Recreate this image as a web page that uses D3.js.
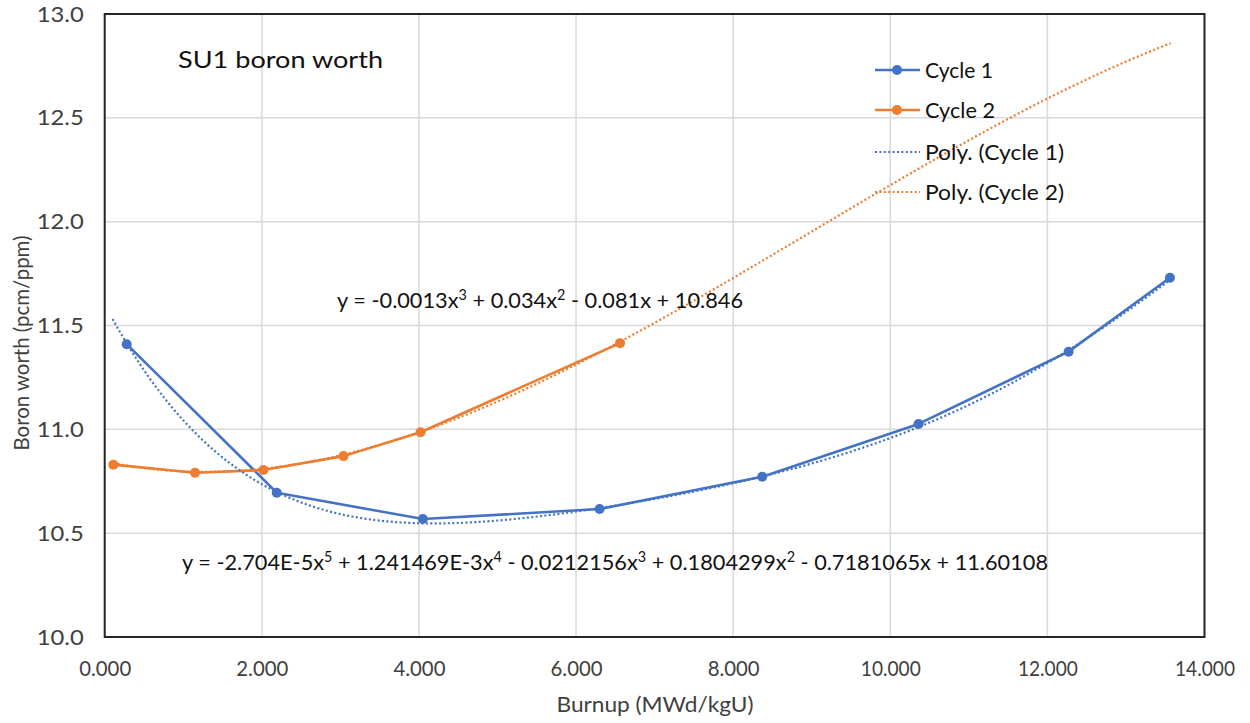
<!DOCTYPE html>
<html>
<head>
<meta charset="utf-8">
<script src="https://cdn.jsdelivr.net/npm/d3@7"></script>
<style>
  html, body { margin: 0; padding: 0; background: #ffffff; }
  svg { display: block; }
  text { font-family: Lato, "Open Sans", "Noto Sans", sans-serif; }
</style>
</head>
<body>
<svg id="chart" width="1250" height="723"></svg>
<script>
// Boron worth measurements per cycle (burnup in MWd/kgU, worth in pcm/ppm)
const cycle1Burnup = [0.28, 2.19, 4.05, 6.30, 8.37, 10.36, 12.27, 13.56];
const cycle1Worth  = [11.41, 10.695, 10.568, 10.616, 10.772, 11.026, 11.374, 11.73];
const cycle2Burnup = [0.11, 1.15, 2.02, 3.04, 4.02, 6.56];
const cycle2Worth  = [10.83, 10.791, 10.804, 10.871, 10.986, 11.415];

// Polynomial trendline coefficients, highest power first, and the span each covers
const poly1Coef  = [-2.704e-5, 1.241469e-3, -0.0212156, 0.1804299, -0.7181065, 11.60108];
const poly1Range = [0.10, 13.56];
const poly2Coef  = [-0.00126, 0.034, -0.081, 10.846];
const poly2Range = [0.11, 13.57];

// Axis ticks
const xTicks = [0, 2, 4, 6, 8, 10, 12, 14];
const yTicks = [10.0, 10.5, 11.0, 11.5, 12.0, 12.5, 13.0];

// Text
const titleText  = "SU1 boron worth";
const xTitle     = "Burnup (MWd/kgU)";
const yTitle     = "Boron worth (pcm/ppm)";
const legendLabels = ["Cycle 1", "Cycle 2", "Poly. (Cycle 1)", "Poly. (Cycle 2)"];
// equation pieces: [text, isSuperscript]
const eq2Parts = [["y = -0.0013x", false], ["3", true], [" + 0.034x", false], ["2", true], [" - 0.081x + 10.846", false]];
const eq1Parts = [["y = -2.704E-5x", false], ["5", true], [" + 1.241469E-3x", false], ["4", true],
                  [" - 0.0212156x", false], ["3", true], [" + 0.1804299x", false], ["2", true],
                  [" - 0.7181065x + 11.60108", false]];

const BLUE = "#4472C4", ORANGE = "#ED7D31", TEXT = "#111111", TICK = "#404040", GRID = "#d9d9d9";

const svg = d3.select("#chart");

const x = d3.scaleLinear().domain([0, 14]).range([104.7, 1204.5]);
const y = d3.scaleLinear().domain([10, 13]).range([637, 14]);

// gridlines
const grid = svg.append("g");
grid.selectAll("line.v").data(xTicks).join("line")
  .attr("x1", d => x(d)).attr("x2", d => x(d))
  .attr("y1", y(10)).attr("y2", y(13))
  .attr("stroke", GRID).attr("stroke-width", 1.5);
grid.selectAll("line.h").data(yTicks).join("line")
  .attr("x1", x(0)).attr("x2", x(14))
  .attr("y1", d => y(d)).attr("y2", d => y(d))
  .attr("stroke", GRID).attr("stroke-width", 1.5);

// plot area frame
svg.append("rect")
  .attr("x", x(0)).attr("y", y(13))
  .attr("width", x(14) - x(0)).attr("height", y(10) - y(13))
  .attr("fill", "none").attr("stroke", "#262626").attr("stroke-width", 2);

// stretch or squeeze a text element to a target width
function fitWidth(sel, w) {
  sel.attr("textLength", w).attr("lengthAdjust", "spacingAndGlyphs");
  return sel;
}

// axes
const xAxis = svg.append("g").attr("transform", `translate(0,${y(10)})`)
  .call(d3.axisBottom(x).tickValues(xTicks).tickFormat(d3.format(".3f")).tickSize(0));
xAxis.select(".domain").remove();
xAxis.selectAll("text").attr("fill", TICK).attr("font-size", 22)
  .style("font-family", "Lato, 'Open Sans', sans-serif")
  .attr("dy", "0.35em").attr("y", 31);
xAxis.selectAll("text").each(function (d) { fitWidth(d3.select(this), d >= 10 ? 60 : 52); });

const yAxis = svg.append("g").attr("transform", `translate(${x(0)},0)`)
  .call(d3.axisLeft(y).tickValues(yTicks).tickFormat(d3.format(".1f")).tickSize(0).tickPadding(21));
yAxis.select(".domain").remove();
yAxis.selectAll("text").attr("fill", TICK).attr("font-size", 22)
  .style("font-family", "Lato, 'Open Sans', sans-serif");
yAxis.selectAll("text").each(function () { fitWidth(d3.select(this), 47); });

// axis titles
svg.append("text").attr("x", 655).attr("y", 705).attr("dy", "0.35em")
  .attr("text-anchor", "middle").attr("font-size", 21).attr("fill", TICK)
  .text(xTitle).call(fitWidth, 197);
svg.append("text").attr("transform", "translate(22,343) rotate(-90)").attr("dy", "0.35em")
  .attr("text-anchor", "middle").attr("font-size", 21).attr("fill", TICK)
  .text(yTitle).call(fitWidth, 215);

// chart title
svg.append("text").attr("x", 178).attr("y", 60).attr("dy", "0.35em")
  .attr("font-size", 24).attr("fill", TEXT).text(titleText).call(fitWidth, 205);

// series data
const c1 = cycle1Burnup.map((b, i) => [b, cycle1Worth[i]]);
const c2 = cycle2Burnup.map((b, i) => [b, cycle2Worth[i]]);

const polyEval = (coef, t) => coef.reduce((acc, c) => acc * t + c, 0);
const trend = (coef, range) => d3.range(0, 201).map(i => {
  const t = range[0] + (range[1] - range[0]) * i / 200;
  return [t, polyEval(coef, t)];
});

const line = d3.line().x(d => x(d[0])).y(d => y(d[1]));

const plot = svg.append("g");
[[c1, BLUE], [c2, ORANGE]].forEach(([pts, col]) => {
  plot.append("path").datum(pts).attr("d", line)
    .attr("fill", "none").attr("stroke", col).attr("stroke-width", 2.6)
    .attr("stroke-linejoin", "round");
});
[[trend(poly1Coef, poly1Range), BLUE], [trend(poly2Coef, poly2Range), ORANGE]].forEach(([pts, col]) => {
  plot.append("path").datum(pts).attr("d", line)
    .attr("fill", "none").attr("stroke", col).attr("stroke-width", 2.2)
    .attr("stroke-dasharray", "2 2.4");
});
[[c1, BLUE], [c2, ORANGE]].forEach(([pts, col]) => {
  plot.append("g").selectAll("circle").data(pts).join("circle")
    .attr("cx", d => x(d[0])).attr("cy", d => y(d[1])).attr("r", 5).attr("fill", col);
});

// trendline equations
function equation(parts, x0, yc, size, w) {
  const t = svg.append("text").attr("x", x0).attr("y", yc).attr("dy", "0.35em")
    .attr("font-size", size).attr("fill", TEXT);
  parts.forEach(([s, sup]) => {
    const ts = t.append("tspan").text(s);
    if (sup) ts.attr("font-size", size * 0.66).attr("baseline-shift", "super");
  });
  fitWidth(t, w);
}
equation(eq2Parts, 337, 300, 22, 406);
equation(eq1Parts, 182, 562, 22, 866);

// legend
const legend = svg.append("g");
const legendRows = [
  { label: legendLabels[0], color: BLUE, dotted: false, y: 70 },
  { label: legendLabels[1], color: ORANGE, dotted: false, y: 110 },
  { label: legendLabels[2], color: BLUE, dotted: true, y: 152 },
  { label: legendLabels[3], color: ORANGE, dotted: true, y: 192 }
];
const legendWidths = [68, 70, 139, 139];
legendRows.forEach((r, i) => {
  legend.append("line").attr("x1", 875).attr("x2", 920).attr("y1", r.y).attr("y2", r.y)
    .attr("stroke", r.color).attr("stroke-width", r.dotted ? 2.2 : 2.6)
    .attr("stroke-dasharray", r.dotted ? "2 2.4" : null);
  if (!r.dotted) legend.append("circle").attr("cx", 897).attr("cy", r.y).attr("r", 5).attr("fill", r.color);
  legend.append("text").attr("x", 925).attr("y", r.y).attr("dy", "0.35em")
    .attr("font-size", 22).attr("fill", TEXT).text(r.label).call(fitWidth, legendWidths[i]);
});
</script>
</body>
</html>
